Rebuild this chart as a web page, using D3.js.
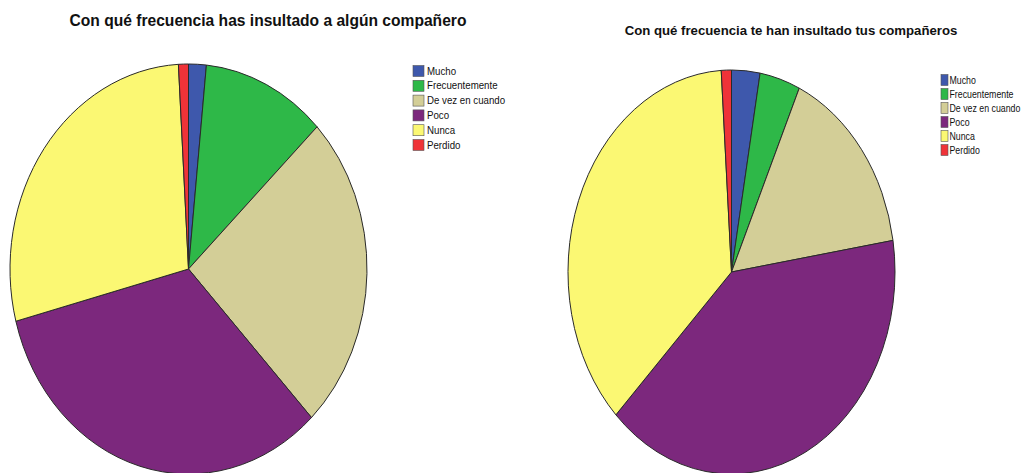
<!DOCTYPE html>
<html>
<head>
<meta charset="utf-8">
<script src="https://cdn.jsdelivr.net/npm/d3@7"></script>
<style>
  html, body { margin: 0; padding: 0; background: #ffffff; }
  svg { display: block; }
</style>
</head>
<body>
<svg id="chart" width="1023" height="473"></svg>
<script>
// Data
const categories = ["Mucho", "Frecuentemente", "De vez en cuando", "Poco", "Nunca", "Perdido"];
const colors = ["#3E58AC", "#2EB848", "#D3CE97", "#7C287D", "#FBF873", "#EF3338"];
const leftTitle = "Con qué frecuencia has insultado a algún compañero";
const rightTitle = "Con qué frecuencia te han insultado tus compañeros";
const leftValues = [1.6, 11.2, 25.1, 33.0, 28.2, 0.9];
const rightValues = [2.8, 4.0, 15.7, 40.0, 36.5, 1.0];

const svg = d3.select("#chart");
const color = d3.scaleOrdinal().domain(categories).range(colors);
const pie = d3.pie().sort(null).value(d => d.v);
const R = 100;
const arc = d3.arc().innerRadius(0).outerRadius(R);

function drawPie(values, cfg) {
  const data = categories.map((c, i) => ({ c, v: values[i] }));
  const g = svg.append("g")
    .attr("transform", `translate(${cfg.cx},${cfg.cy}) scale(${cfg.rx / R},${cfg.ry / R})`);
  g.selectAll("path")
    .data(pie(data))
    .join("path")
    .attr("d", arc)
    .attr("fill", d => color(d.data.c))
    .attr("stroke", "#2a2a2a")
    .attr("stroke-width", 1)
    .attr("vector-effect", "non-scaling-stroke");

  svg.append("text")
    .attr("x", cfg.tx).attr("y", cfg.ty)
    .attr("text-anchor", "middle")
    .attr("font-family", "Liberation Sans, Arial, sans-serif")
    .attr("font-weight", "bold")
    .attr("font-size", cfg.tfs)
    .attr("fill", "#111")
    .text(cfg.title);

  const lg = svg.append("g").attr("transform", `translate(${cfg.lx},${cfg.ly})`);
  const rows = lg.selectAll("g").data(categories).join("g")
    .attr("transform", (d, i) => `translate(0,${i * cfg.lstep})`);
  rows.append("rect")
    .attr("x", 0).attr("y", -cfg.sh / 2)
    .attr("width", cfg.sw).attr("height", cfg.sh)
    .attr("fill", d => color(d))
    .attr("stroke", "#555").attr("stroke-width", 0.6);
  rows.append("text")
    .attr("transform", `translate(${cfg.sw + cfg.tgap},0) scale(${cfg.sx},1)`)
    .attr("dy", "0.35em")
    .attr("font-family", "Liberation Sans, Arial, sans-serif")
    .attr("font-size", cfg.lfs)
    .attr("fill", "#111")
    .text(d => d);
}

drawPie(leftValues, {
  cx: 188.5, cy: 269, rx: 178.5, ry: 205,
  title: leftTitle, tx: 268, ty: 26, tfs: 15.6,
  lx: 413, ly: 71, lstep: 14.8, sw: 11, sh: 11, tgap: 3, sx: 0.97, lfs: 10
});
drawPie(rightValues, {
  cx: 731.5, cy: 272, rx: 163.5, ry: 202,
  title: rightTitle, tx: 791, ty: 35, tfs: 13.2,
  lx: 941, ly: 80, lstep: 14, sw: 7, sh: 11, tgap: 1.5, sx: 0.88, lfs: 10
});
</script>
</body>
</html>
